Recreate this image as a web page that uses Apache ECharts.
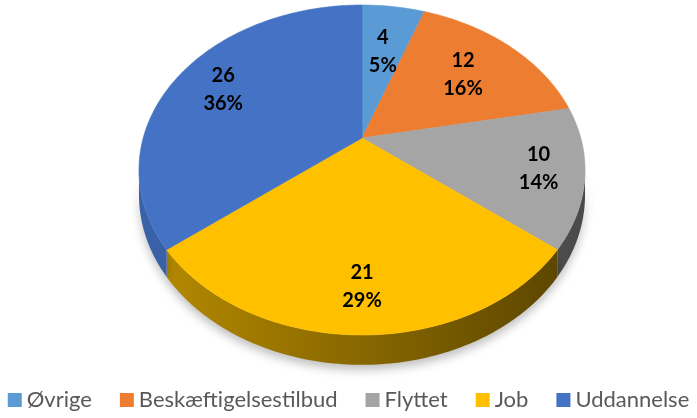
<!DOCTYPE html>
<html><head><meta charset="utf-8">
<script src="https://cdn.jsdelivr.net/npm/echarts@6/dist/echarts.min.js"></script>
<style>html,body{margin:0;padding:0;background:#fff}#c{width:697px;height:418px}</style>
</head><body><div id="c"></div>
<script>
const categories = ['Øvrige', 'Beskæftigelsestilbud', 'Flyttet', 'Job', 'Uddannelse'];
const values = [4, 12, 10, 21, 26];
const topColors = ['#5B9BD5', '#ED7D31', '#A5A5A5', '#FFC000', '#4472C4'];
const wallColors = [
  ['#3f78b0', '#2e5f8f'],
  ['#b85a1c', '#8a4214'],
  ['#6e6e6e', '#4a4a4a'],
  ['#b88c00', '#574200'],
  ['#3a62a8', '#2a4a85']
];
const labelRadius = [0.62, 0.66, 0.8, 0.79, 0.75];

const total = values.reduce((a, b) => a + b, 0);
const starts = [];
let acc = 0;
values.forEach(v => { starts.push(acc); acc += v; });

// projection of a tilted disc (perspective)
const CX = 362, CY = 138, A = 218.8, B = 158.8, K = 0.194, D = 24;
function proj(r, th, dz) {
  const u = r * Math.sin(th), v = -r * Math.cos(th);
  const w = 1 - K * v;
  return [CX + A * u / w, CY + (B * v + dz) / w];
}
const SIL1 = Math.acos(-K), SIL2 = 2 * Math.PI - Math.acos(-K);

function arcPts(a1, a2, dz) {
  const pts = [];
  const n = Math.max(2, Math.ceil((a2 - a1) / (Math.PI / 180)));
  for (let i = 0; i <= n; i++) pts.push(proj(1, a1 + (a2 - a1) * i / n, dz));
  return pts;
}

function makeRender(idx) {
  return function (params, api) {
    const val = api.value(0);
    const a1 = starts[idx] / total * 2 * Math.PI;
    const a2 = (starts[idx] + val) / total * 2 * Math.PI;
    const children = [];
    const w1 = Math.max(a1, SIL1), w2 = Math.min(a2, SIL2);
    if (w2 > w1) {
      const top = arcPts(w1, w2, 0);
      const bot = arcPts(w1, w2, D).reverse();
      children.push({
        type: 'polygon', z2: 1,
        shape: { points: top.concat(bot) },
        style: {
          fill: new echarts.graphic.LinearGradient(140, 0, 585, 0, [
            { offset: 0, color: wallColors[idx][0] },
            { offset: 1, color: wallColors[idx][1] }
          ], true),
          shadowColor: 'rgba(0,0,0,0.25)', shadowBlur: 10, shadowOffsetY: 5
        }
      });
    }
    const face = [proj(0, 0, 0)].concat(arcPts(a1, a2, 0));
    children.push({
      type: 'polygon', z2: 10,
      shape: { points: face },
      style: { fill: topColors[idx], stroke: topColors[idx], lineWidth: 0.6 }
    });
    const mid = (a1 + a2) / 2;
    const lp = proj(labelRadius[idx], mid, 0);
    const pct = Math.round(val / total * 100);
    children.push({
      type: 'text', z2: 20,
      style: {
        text: val + '\n' + pct + '%',
        x: lp[0], y: lp[1],
        fill: '#000', font: 'bold 20px Lato',
        align: 'center', verticalAlign: 'middle', lineHeight: 28
      }
    });
    return { type: 'group', children };
  };
}

const chart = echarts.init(document.getElementById('c'), null, { renderer: 'canvas' });
chart.setOption({
  animation: false,
  legend: {
    data: categories, bottom: 2, left: 'center',
    icon: 'rect', itemWidth: 14, itemHeight: 14, itemGap: 28,
    textStyle: { color: '#595959', fontSize: 22, fontFamily: 'Lato' }
  },
  series: categories.map((name, i) => ({
    type: 'custom', name, coordinateSystem: 'none',
    itemStyle: { color: topColors[i] },
    renderItem: makeRender(i),
    data: [[values[i]]]
  }))
});
</script></body></html>
